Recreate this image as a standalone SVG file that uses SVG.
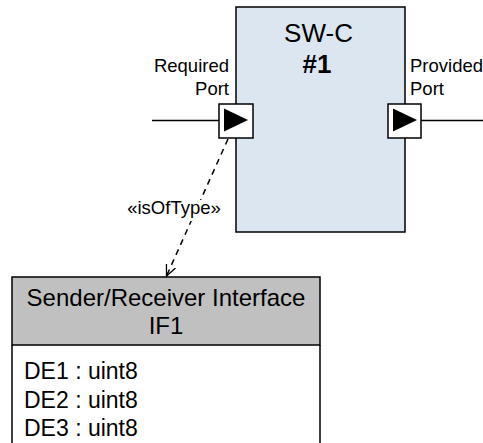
<svg xmlns="http://www.w3.org/2000/svg" width="483" height="443" viewBox="0 0 483 443">
<style>
text{font-family:"Liberation Sans",Arial,sans-serif;fill:#000}
.lbl{font-size:18.5px}
.big{font-size:26px}
.hdr{font-size:24px}
.attr{font-size:23px}
.bx{stroke:#000;stroke-width:1.5}
</style>
<defs>
<marker id="open" viewBox="0 0 12 12" refX="11" refY="6" markerWidth="12" markerHeight="12" markerUnits="userSpaceOnUse" orient="auto">
<path d="M0,1 L11,6 L0,11" fill="none" stroke="#000" stroke-width="1.3"/>
</marker>
</defs>
<g id="swc">
<rect class="bx" x="236" y="7" width="169" height="225" fill="#dce6f1"/>
<text class="big" x="318.5" y="42" text-anchor="middle">SW-C</text>
<text class="big" x="317" y="73" text-anchor="middle" font-weight="bold">#1</text>
</g>
<g id="rport">
<rect class="bx" x="219" y="104" width="34" height="34" fill="#fff"/>
<path d="M224,108.5 L224,131.5 L248,120 Z" fill="#000"/>
<text class="lbl" x="229" y="72" text-anchor="end">Required</text>
<text class="lbl" x="229" y="95" text-anchor="end">Port</text>
</g>
<g id="pport">
<rect class="bx" x="388" y="104" width="33" height="34" fill="#fff"/>
<path d="M393,108.5 L393,131.5 L417,120 Z" fill="#000"/>
<text class="lbl" x="410" y="72">Provided</text>
<text class="lbl" x="410" y="95">Port</text>
</g>
<g id="if1">
<rect class="bx" x="12" y="277" width="308" height="68" fill="#c0c0c0"/>
<path class="bx" d="M12,345 L12,444 M320,345 L320,444" fill="none"/>
<text class="hdr" x="166" y="306" text-anchor="middle">Sender/Receiver Interface</text>
<text class="hdr" x="166" y="334" text-anchor="middle">IF1</text>
<text class="attr" x="24" y="379">DE1 : uint8</text>
<text class="attr" x="24" y="408">DE2 : uint8</text>
<text class="attr" x="24" y="436">DE3 : uint8</text>
</g>
<g id="connectors">
<path d="M152,120.5 L219,120.5" stroke="#000" stroke-width="1.5" fill="none"/>
<path d="M421,120.5 L483,120.5" stroke="#000" stroke-width="1.5" fill="none"/>
<path d="M228,139 L166.5,276" stroke="#000" stroke-width="1.5" stroke-dasharray="6,5" fill="none" marker-end="url(#open)"/>
<rect x="126" y="200" width="97" height="21" fill="#fff"/>
<text class="lbl" x="174" y="214" text-anchor="middle">«isOfType»</text>
</g>
</svg>
